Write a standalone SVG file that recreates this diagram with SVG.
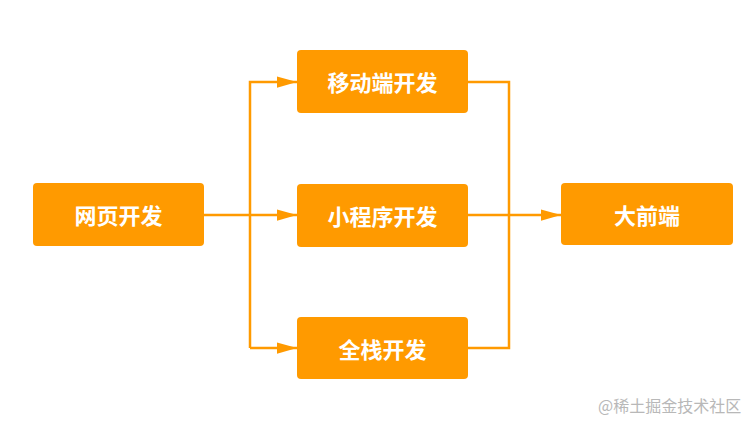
<svg xmlns="http://www.w3.org/2000/svg" width="755" height="429" viewBox="0 0 755 429">
<style>
.box{fill:#FF9A00;}
.t{fill:#fff;font-family:"Noto Sans CJK SC","Noto Sans",sans-serif;font-size:22px;font-weight:bold;text-anchor:middle;dominant-baseline:central;}
.ln{fill:none;stroke:#FF9A00;stroke-width:2.5;}
.wm{fill:#b8b8b8;font-family:"Noto Sans CJK SC","Noto Sans",sans-serif;font-size:16px;}
</style>
<defs>
<marker id="ah" viewBox="0 0 10 10" refX="10" refY="5" markerWidth="8" markerHeight="4.5" markerUnits="strokeWidth" orient="auto" preserveAspectRatio="none">
<path d="M0,0 L10,5 L0,10 Z" fill="#FF9A00"/>
</marker>
</defs>
<rect width="755" height="429" fill="#fff"/>
<g id="connectors">
<path class="ln" d="M204,215 L297,215" marker-end="url(#ah)"/>
<path class="ln" d="M250,348 L250,82 L297,82" marker-end="url(#ah)"/>
<path class="ln" d="M250,348 L297,348" marker-end="url(#ah)"/>
<path class="ln" d="M468,82 L509,82 L509,348 L468,348"/>
<path class="ln" d="M468,215 L561,215" marker-end="url(#ah)"/>
</g>
<g id="web"><rect class="box" x="33" y="183" width="171" height="63" rx="4"/><text class="t" x="118.5" y="214">网页开发</text></g>
<g id="mobile"><rect class="box" x="297" y="50" width="171" height="63" rx="4"/><text class="t" x="382.5" y="81">移动端开发</text></g>
<g id="mini"><rect class="box" x="297" y="184" width="171" height="63" rx="4"/><text class="t" x="382.5" y="215">小程序开发</text></g>
<g id="fullstack"><rect class="box" x="297" y="317" width="171" height="62" rx="4"/><text class="t" x="382.5" y="347.5">全栈开发</text></g>
<g id="bigfront"><rect class="box" x="561" y="183" width="172" height="62" rx="4"/><text class="t" x="647" y="213.5">大前端</text></g>
<text class="wm" x="598" y="412">@稀土掘金技术社区</text>
</svg>
